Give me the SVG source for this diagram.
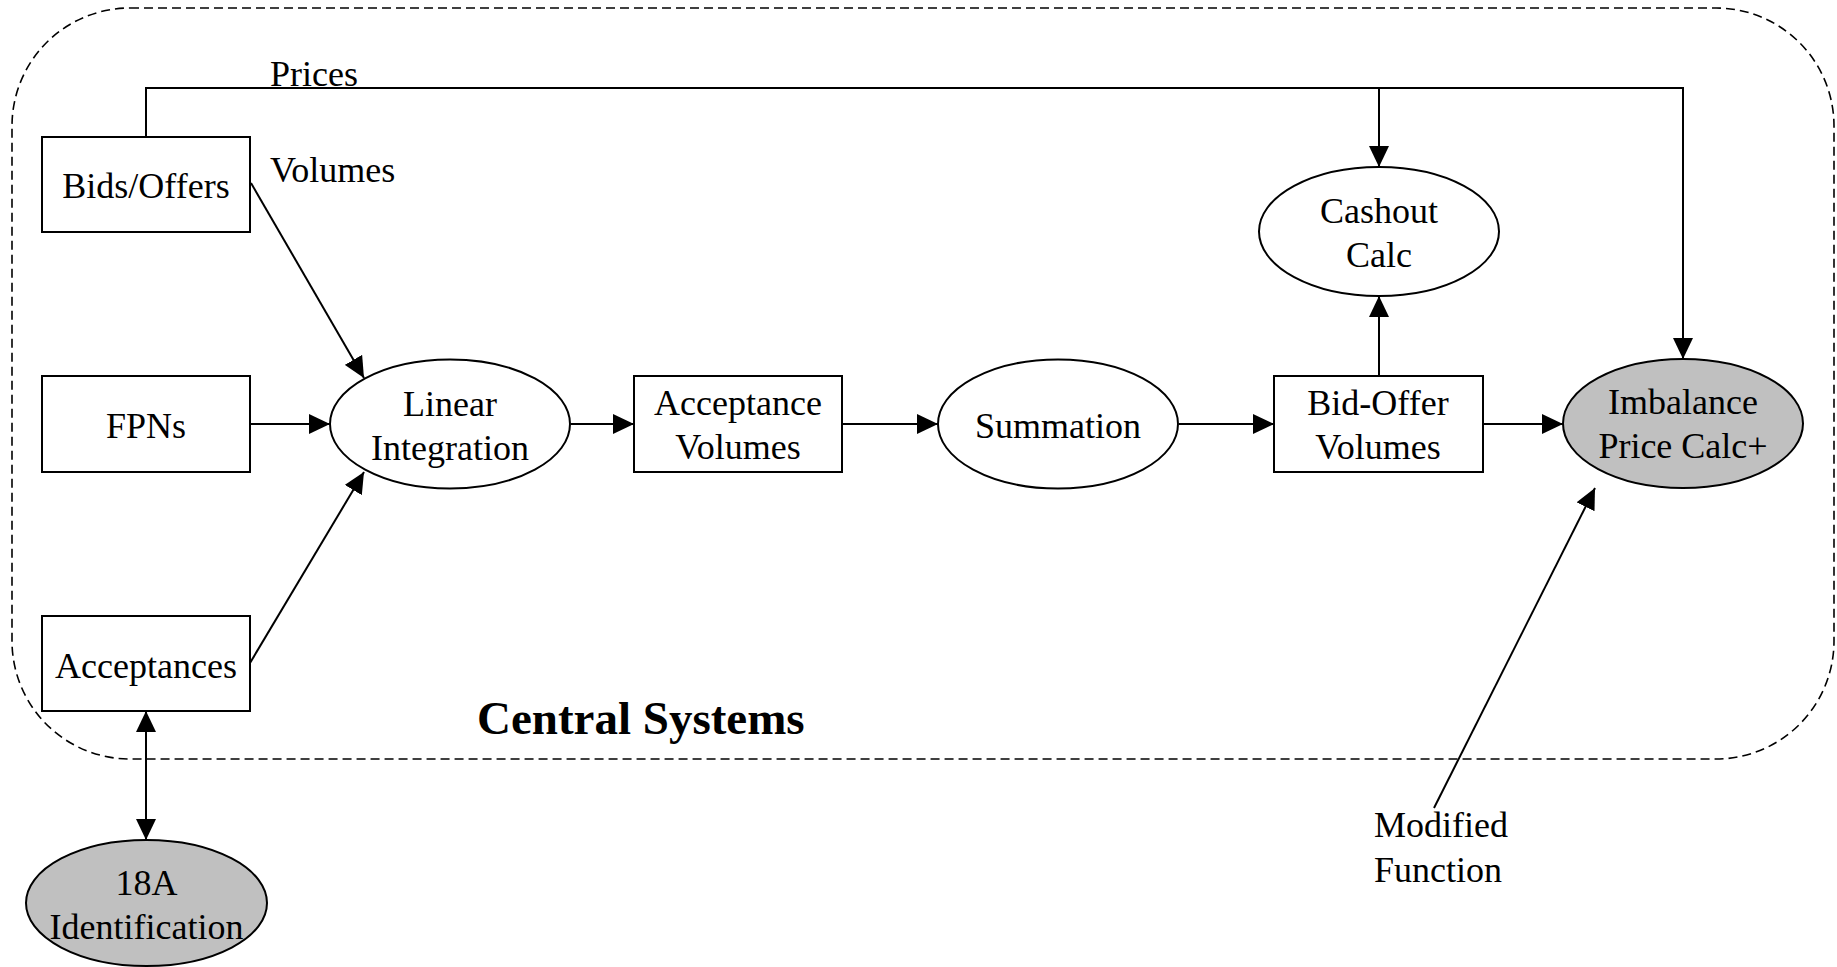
<svg xmlns="http://www.w3.org/2000/svg" width="1837" height="967" viewBox="0 0 1837 967">
  <style>
    .box { fill: #ffffff; stroke: #000000; stroke-width: 2; }
    .proc { fill: #ffffff; stroke: #000000; stroke-width: 2; }
    .mod { fill: #c0c0c0; stroke: #000000; stroke-width: 2; }
    .lbl { font-family: "Liberation Serif", "Times New Roman", serif; font-size: 36px; fill: #000000; }
    .mid { text-anchor: middle; }
    .title { font-family: "Liberation Serif", "Times New Roman", serif; font-size: 47px; font-weight: bold; fill: #000000; }
    .edge { fill: none; stroke: #000000; stroke-width: 2; }
    .boundary { fill: none; stroke: #000000; stroke-width: 1.6; stroke-dasharray: 9 5; }
  </style>
  <defs>
    <marker id="arrow" markerUnits="userSpaceOnUse" markerWidth="21" markerHeight="20" viewBox="0 0 21 20" refX="21" refY="10" orient="auto-start-reverse">
      <path d="M0,0 L21,10 L0,20 z" fill="#000000"/>
    </marker>
  </defs>

  <rect width="1837" height="967" fill="#ffffff"/>

  <!-- system boundary -->
  <g id="central-systems">
    <rect class="boundary" x="12" y="8" width="1822" height="751" rx="118" ry="118"/>
    <text class="title" x="477" y="734">Central Systems</text>
  </g>

  <!-- connectors -->
  <g id="connectors">
    <path class="edge" d="M146,137 V88 H1683 V359" marker-end="url(#arrow)"/>
    <path class="edge" d="M1379,88 V167" marker-end="url(#arrow)"/>
    <path class="edge" d="M251,183 L364,378" marker-end="url(#arrow)"/>
    <path class="edge" d="M250,424 H330" marker-end="url(#arrow)"/>
    <path class="edge" d="M250,663 L364,472" marker-end="url(#arrow)"/>
    <path class="edge" d="M571,424 H634" marker-end="url(#arrow)"/>
    <path class="edge" d="M842,424 H938" marker-end="url(#arrow)"/>
    <path class="edge" d="M1179,424 H1274" marker-end="url(#arrow)"/>
    <path class="edge" d="M1483,424 H1563" marker-end="url(#arrow)"/>
    <path class="edge" d="M1379,376 V296" marker-end="url(#arrow)"/>
    <path class="edge" d="M146,711 V840" marker-start="url(#arrow)" marker-end="url(#arrow)"/>
    <path class="edge" d="M1434,808 L1595,488" marker-end="url(#arrow)"/>
    <text class="lbl" x="270" y="86">Prices</text>
    <text class="lbl" x="270" y="182">Volumes</text>
  </g>

  <g id="bids-offers">
    <rect class="box" x="42" y="137" width="208" height="95"/>
    <text class="lbl mid" x="146" y="198">Bids/Offers</text>
  </g>

  <g id="fpns">
    <rect class="box" x="42" y="376" width="208" height="96"/>
    <text class="lbl mid" x="146" y="438">FPNs</text>
  </g>

  <g id="acceptances">
    <rect class="box" x="42" y="616" width="208" height="95"/>
    <text class="lbl mid" x="146" y="678">Acceptances</text>
  </g>

  <g id="linear-integration">
    <ellipse class="proc" cx="450" cy="424" rx="120" ry="64.5"/>
    <text class="lbl mid" x="450" y="416">Linear</text>
    <text class="lbl mid" x="450" y="460">Integration</text>
  </g>

  <g id="acceptance-volumes">
    <rect class="box" x="634" y="376" width="208" height="96"/>
    <text class="lbl mid" x="738" y="415">Acceptance</text>
    <text class="lbl mid" x="738" y="459">Volumes</text>
  </g>

  <g id="summation">
    <ellipse class="proc" cx="1058" cy="424" rx="120" ry="64.5"/>
    <text class="lbl mid" x="1058" y="438">Summation</text>
  </g>

  <g id="bid-offer-volumes">
    <rect class="box" x="1274" y="376" width="209" height="96"/>
    <text class="lbl mid" x="1378" y="415">Bid-Offer</text>
    <text class="lbl mid" x="1378" y="459">Volumes</text>
  </g>

  <g id="cashout-calc">
    <ellipse class="proc" cx="1379" cy="231.5" rx="120" ry="64.5"/>
    <text class="lbl mid" x="1379" y="223">Cashout</text>
    <text class="lbl mid" x="1379" y="267">Calc</text>
  </g>

  <g id="imbalance-price-calc">
    <ellipse class="mod" cx="1683" cy="423.5" rx="120" ry="64.5"/>
    <text class="lbl mid" x="1683" y="414">Imbalance</text>
    <text class="lbl mid" x="1683" y="458">Price Calc+</text>
  </g>

  <g id="identification-18a">
    <ellipse class="mod" cx="146.5" cy="903" rx="120.5" ry="63"/>
    <text class="lbl mid" x="146.5" y="895">18A</text>
    <text class="lbl mid" x="146.5" y="939">Identification</text>
  </g>

  <g id="modified-function-note">
    <text class="lbl" x="1374" y="837">Modified</text>
    <text class="lbl" x="1374" y="882">Function</text>
  </g>
</svg>
